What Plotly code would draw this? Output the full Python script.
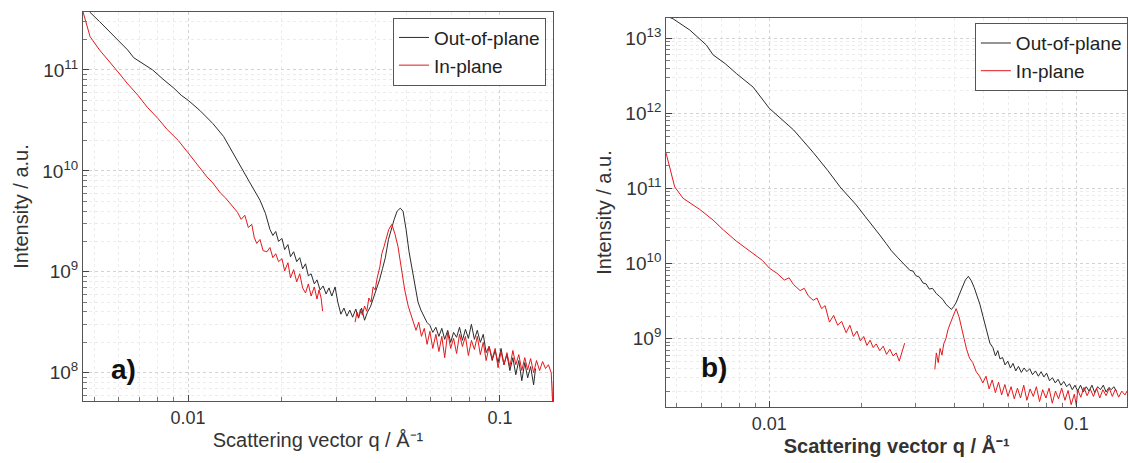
import plotly.graph_objects as go

# ---------------- Panel a) data ----------------
q_a_oop = [0.0046, 0.00485, 0.0052, 0.0057, 0.0064, 0.0067, 0.0072, 0.0077, 0.0083, 0.0090,
           0.0095, 0.0100, 0.0109, 0.0120, 0.0130, 0.0139, 0.0150, 0.0158, 0.0170, 0.0177,
           0.0183, 0.0187, 0.0191, 0.0195, 0.0200, 0.0204, 0.0209, 0.0213, 0.0218, 0.0223,
           0.0228, 0.0233, 0.0238, 0.0243, 0.0248, 0.0254, 0.0259, 0.0265, 0.0271, 0.0277,
           0.0283, 0.0289, 0.0296, 0.0302, 0.0309, 0.0316, 0.0323, 0.0330, 0.0337, 0.0345,
           0.0352, 0.0360, 0.0368, 0.0376, 0.0385, 0.0393, 0.0402, 0.0411, 0.0420, 0.0429,
           0.0439, 0.0448, 0.0458, 0.0468, 0.0479, 0.0489, 0.0500, 0.0511, 0.0523, 0.0534,
           0.0546, 0.0558, 0.0571, 0.0583, 0.0596, 0.0609, 0.0623, 0.0637, 0.0651, 0.0665,
           0.0680, 0.0695, 0.0710, 0.0726, 0.0742, 0.0758, 0.0775, 0.0792, 0.0810, 0.0828,
           0.0846, 0.0865, 0.0884, 0.0903, 0.0923, 0.0944, 0.0965, 0.0986, 0.1008, 0.1030,
           0.1053, 0.1076, 0.1100, 0.1124, 0.1149, 0.1175, 0.1201, 0.1227, 0.1254, 0.1282,
           0.1300]
i_a_oop = [4.5e11, 3.72e11, 3.02e11, 2.29e11, 1.58e11, 1.32e11, 1.15e11, 1.0e11, 8.13e10, 6.61e10,
           5.62e10, 5.01e10, 3.98e10, 2.95e10, 2.19e10, 1.51e10, 1.0e10, 7.59e9, 5.13e9, 3.8e9,
           2.63e9, 2.29e9, 2.51e9, 2.00e9, 2.14e9, 1.66e9, 1.86e9, 1.41e9, 1.58e9, 1.26e9,
           1.38e9, 1.07e9, 1.20e9, 9.12e8, 9.55e8, 7.59e8, 8.32e8, 6.61e8, 7.24e8, 6.03e8,
           6.92e8, 5.75e8, 7.08e8, 5.01e8, 3.80e8, 4.37e8, 3.63e8, 4.17e8, 3.55e8, 4.27e8,
           3.47e8, 4.37e8, 3.31e8, 3.98e8, 4.57e8, 5.50e8, 6.61e8, 8.32e8, 1.07e9, 1.38e9,
           2.09e9, 2.63e9, 3.31e9, 3.98e9, 4.27e9, 3.98e9, 2.63e9, 1.58e9, 1.05e9, 6.92e8,
           5.01e8, 4.17e8, 3.63e8, 3.16e8, 2.95e8, 2.51e8, 2.82e8, 2.29e8, 2.75e8, 2.14e8,
           2.63e8, 2.00e8, 2.51e8, 2.24e8, 2.82e8, 2.09e8, 2.69e8, 2.19e8, 3.02e8, 2.14e8,
           2.63e8, 2.00e8, 2.40e8, 1.58e8, 1.82e8, 1.32e8, 1.66e8, 1.26e8, 1.74e8, 1.20e8,
           1.51e8, 1.05e8, 1.41e8, 9.55e7, 1.32e8, 8.32e7, 1.26e8, 8.91e7, 1.15e8, 7.59e7,
           1.10e8]

q_a_ip = [0.0046, 0.00485, 0.0052, 0.00562, 0.0060, 0.00637, 0.0069, 0.0074, 0.0080, 0.00857,
          0.0093, 0.0100, 0.0107, 0.0115, 0.0120, 0.0127, 0.0132, 0.0139, 0.0144, 0.0148,
          0.0152, 0.0156, 0.0160, 0.0163, 0.0166, 0.0170, 0.0174, 0.0179, 0.0183, 0.0187,
          0.0191, 0.0195, 0.0200, 0.0204, 0.0209, 0.0213, 0.0218, 0.0223, 0.0228, 0.0233,
          0.0238, 0.0243, 0.0248, 0.0254, 0.0259, 0.0263, 0.0267, 0.0270, None,
          0.0343, 0.0348, 0.0352, 0.0357, 0.0362, 0.0368, 0.0374, 0.0380, 0.0386, 0.0392,
          0.0398, 0.0404, 0.0412, 0.0418, 0.0425, 0.0432, 0.0440, 0.0450, 0.0460, 0.0471,
          0.0483, 0.0495, 0.0508, 0.0518, 0.0527, 0.0538, 0.0549, 0.0560, 0.0572, 0.0584,
          0.0596, 0.0609, 0.0623, 0.0637, 0.0651, 0.0665, 0.0680, 0.0695, 0.0710, 0.0726,
          0.0742, 0.0758, 0.0775, 0.0792, 0.0810, 0.0828, 0.0846, 0.0865, 0.0884, 0.0903,
          0.0923, 0.0944, 0.0965, 0.0986, 0.1008, 0.1030, 0.1053, 0.1076, 0.1100, 0.1124,
          0.1149, 0.1175, 0.1201, 0.1227, 0.1254, 0.1282, 0.1310, 0.1340, 0.1370, 0.1400,
          0.1430, 0.1460, 0.1475, 0.1490]
i_a_ip = [3.8e11, 2.14e11, 1.58e11, 1.17e11, 9.33e10, 7.41e10, 5.62e10, 4.27e10, 3.31e10, 2.57e10,
          2.0e10, 1.51e10, 1.15e10, 8.71e9, 7.59e9, 6.03e9, 5.37e9, 4.37e9, 3.89e9, 3.31e9,
          3.63e9, 2.75e9, 2.95e9, 2.19e9, 1.91e9, 2.09e9, 1.62e9, 1.58e9, 1.74e9, 1.38e9,
          1.51e9, 1.26e9, 1.35e9, 1.02e9, 1.23e9, 8.71e8, 1.05e9, 7.94e8, 9.55e8, 6.92e8,
          6.17e8, 7.59e8, 5.75e8, 7.08e8, 5.37e8, 6.61e8, 5.50e8, 4.07e8, None,
          3.16e8, 3.98e8, 3.55e8, 4.27e8, 3.72e8, 4.57e8, 4.07e8, 5.50e8, 5.01e8, 7.08e8,
          6.61e8, 8.71e8, 1.12e9, 1.51e9, 1.78e9, 2.09e9, 2.63e9, 2.95e9, 2.40e9, 1.78e9,
          1.12e9, 6.61e8, 4.57e8, 3.80e8, 3.31e8, 2.63e8, 3.16e8, 2.29e8, 2.75e8, 1.91e8,
          2.57e8, 1.74e8, 2.40e8, 1.62e8, 2.29e8, 1.41e8, 2.51e8, 1.74e8, 2.19e8, 1.55e8,
          2.40e8, 1.82e8, 2.29e8, 1.48e8, 2.09e8, 1.70e8, 2.29e8, 1.51e8, 2.0e8, 1.32e8,
          1.82e8, 1.38e8, 1.74e8, 1.12e8, 1.62e8, 1.20e8, 1.58e8, 1.15e8, 1.66e8, 1.20e8,
          1.51e8, 1.05e8, 1.41e8, 1.07e8, 1.38e8, 1.0e8, 1.32e8, 1.05e8, 1.29e8, 1.10e8,
          1.20e8, 1.0e8, 5.0e7, 1.15e8]

# ---------------- Panel b) data ----------------
q_b_oop = [0.0046, 0.00486, 0.00551, 0.00624, 0.00656, 0.0072, 0.00782, 0.00886, 0.0100, 0.0110,
           0.0120, 0.0139, 0.0155, 0.0170, 0.0180, 0.0192, 0.0205, 0.0218, 0.0229, 0.0240,
           0.0250, 0.0262, 0.0273, 0.0280, 0.0287, 0.0294, 0.0300, 0.0308, 0.0317, 0.0324,
           0.0332, 0.0340, 0.0350, 0.0359, 0.0368, 0.0376, 0.0384, 0.0392, 0.0399, 0.0406,
           0.0415, 0.0425, 0.0435, 0.0445, 0.0455, 0.0465, 0.0473, 0.0485, 0.0497, 0.0510,
           0.0523, 0.0535, 0.0545, 0.0555, 0.0564, 0.0575, 0.0586, 0.0598, 0.0610, 0.0622,
           0.0635, 0.0648, 0.0662, 0.0676, 0.0690, 0.0705, 0.0720, 0.0736, 0.0752, 0.0768,
           0.0784, 0.0800, 0.0818, 0.0836, 0.0854, 0.0872, 0.0891, 0.0910, 0.0930, 0.0950,
           0.0970, 0.0990, 0.1010, 0.1032, 0.1054, 0.1077, 0.1100, 0.1124, 0.1148, 0.1173,
           0.1198, 0.1224, 0.1250, 0.1277, 0.1300, 0.1325, 0.1350]
i_b_oop = [2.0e13, 1.82e13, 1.29e13, 8.13e12, 6.03e12, 4.57e12, 3.39e12, 2.24e12, 1.17e12, 8.32e11,
           6.03e11, 3.02e11, 1.74e11, 1.05e11, 8.13e10, 6.03e10, 4.27e10, 3.16e10, 2.40e10, 1.86e10,
           1.48e10, 1.20e10, 1.0e10, 9.12e9, 8.13e9, 7.94e9, 6.92e9, 6.61e9, 5.50e9, 5.37e9,
           4.57e9, 4.68e9, 3.98e9, 3.63e9, 3.31e9, 2.88e9, 2.69e9, 2.45e9, 2.69e9, 3.02e9,
           3.80e9, 4.90e9, 6.03e9, 6.76e9, 5.89e9, 4.79e9, 3.98e9, 2.88e9, 1.95e9, 1.29e9,
           8.71e8, 7.59e8, 5.89e8, 6.92e8, 5.37e8, 5.62e8, 4.47e8, 5.01e8, 4.07e8, 4.68e8,
           3.72e8, 4.27e8, 3.55e8, 4.07e8, 3.63e8, 3.98e8, 3.31e8, 3.72e8, 3.16e8, 3.63e8,
           3.09e8, 3.47e8, 2.75e8, 3.02e8, 2.57e8, 2.88e8, 2.40e8, 2.69e8, 2.29e8, 2.51e8,
           2.09e8, 2.40e8, 2.0e8, 2.40e8, 1.95e8, 2.29e8, 2.0e8, 2.40e8, 1.91e8, 2.29e8,
           2.09e8, 2.40e8, 1.95e8, 2.24e8, 2.09e8, 2.29e8, 2.0e8]

q_b_ip = [0.0046, 0.00474, 0.00492, 0.00524, 0.00594, 0.00656, 0.00708, 0.0078, 0.00886, 0.0095,
          0.0100, 0.0106, 0.0112, 0.0116, 0.0120, 0.0126, 0.0130, 0.0134, 0.0139, 0.0143,
          0.0148, 0.0152, 0.0157, 0.0162, 0.0167, 0.0172, 0.0178, 0.0183, 0.0188, 0.0193,
          0.0198, 0.0203, 0.0208, 0.0213, 0.0218, 0.0223, 0.0229, 0.0235, 0.0241, 0.0247,
          0.0253, 0.0259, 0.0265, 0.0270, 0.0276, None,
          0.0346, 0.0350, 0.0355, 0.0360, 0.0365, 0.0370, 0.0376, 0.0382, 0.0389, 0.0396,
          0.0406, 0.0415, 0.0423, 0.0431, 0.0439, 0.0449, 0.0460, 0.0472, 0.0484, 0.0496,
          0.0508, 0.0520, 0.0532, 0.0545, 0.0558, 0.0571, 0.0585, 0.0599, 0.0613, 0.0628,
          0.0643, 0.0658, 0.0674, 0.0690, 0.0707, 0.0724, 0.0741, 0.0759, 0.0777, 0.0796,
          0.0815, 0.0835, 0.0855, 0.0875, 0.0896, 0.0918, 0.0940, 0.0962, 0.0985, 0.1000,
          0.1010, 0.1034, 0.1059, 0.1084, 0.1110, 0.1137, 0.1164, 0.1192, 0.1220, 0.1250,
          0.1280, 0.1310, 0.1341, 0.1373, 0.1406, 0.1440, 0.1466]
i_b_ip = [3.09e11, 1.95e11, 1.05e11, 7.41e10, 5.25e10, 3.80e10, 2.82e10, 2.0e10, 1.38e10, 1.10e10,
          8.71e9, 7.41e9, 6.03e9, 6.46e9, 5.25e9, 4.37e9, 4.68e9, 3.72e9, 3.24e9, 3.47e9,
          2.51e9, 2.75e9, 1.66e9, 2.04e9, 1.51e9, 1.70e9, 1.20e9, 1.51e9, 1.07e9, 1.26e9,
          9.33e8, 1.07e9, 8.13e8, 9.55e8, 7.59e8, 8.51e8, 6.92e8, 7.94e8, 6.17e8, 7.24e8,
          5.89e8, 6.46e8, 5.01e8, 6.61e8, 8.71e8, None,
          3.89e8, 6.46e8, 4.79e8, 7.41e8, 6.03e8, 8.51e8, 1.0e9, 1.32e9, 1.62e9, 1.95e9,
          2.51e9, 1.95e9, 1.45e9, 1.0e9, 7.24e8, 5.50e8, 4.79e8, 3.63e8, 3.16e8, 2.57e8,
          3.16e8, 2.14e8, 2.82e8, 1.91e8, 2.63e8, 1.78e8, 2.45e8, 1.70e8, 2.29e8, 1.58e8,
          2.19e8, 1.62e8, 2.40e8, 1.51e8, 2.14e8, 1.70e8, 2.29e8, 1.45e8, 2.09e8, 1.62e8,
          2.19e8, 1.38e8, 2.0e8, 1.58e8, 2.19e8, 1.51e8, 2.04e8, 1.32e8, 1.82e8, 1.29e8,
          2.09e8, 1.66e8, 2.24e8, 1.74e8, 2.14e8, 1.70e8, 2.19e8, 1.62e8, 2.09e8, 1.74e8,
          2.19e8, 1.70e8, 2.14e8, 1.66e8, 2.0e8, 1.78e8, 2.04e8]

series_names = ["Out-of-plane", "In-plane"]
x_tick_vals = [0.01, 0.1]
x_tick_text = ["0.01", "0.1"]
y_a_tick_vals = [1e8, 1e9, 1e10, 1e11]
y_a_tick_text = ["10<sup>8</sup>", "10<sup>9</sup>", "10<sup>10</sup>", "10<sup>11</sup>"]
y_b_tick_vals = [1e9, 1e10, 1e11, 1e12, 1e13]
y_b_tick_text = ["10<sup>9</sup>", "10<sup>10</sup>", "10<sup>11</sup>", "10<sup>12</sup>", "10<sup>13</sup>"]

BLACK = "#2b2b2b"
RED = "#e3191c"
FONT = "Liberation Sans, Arial, sans-serif"

fig = go.Figure()
fig.add_trace(go.Scatter(x=q_a_oop, y=i_a_oop, mode="lines", name=series_names[0],
                         line=dict(color=BLACK, width=1), xaxis="x", yaxis="y", legend="legend"))
fig.add_trace(go.Scatter(x=q_a_ip, y=i_a_ip, mode="lines", name=series_names[1],
                         line=dict(color=RED, width=1), xaxis="x", yaxis="y", legend="legend"))
fig.add_trace(go.Scatter(x=q_b_oop, y=i_b_oop, mode="lines", name=series_names[0],
                         line=dict(color=BLACK, width=1), xaxis="x2", yaxis="y2", legend="legend2"))
fig.add_trace(go.Scatter(x=q_b_ip, y=i_b_ip, mode="lines", name=series_names[1],
                         line=dict(color=RED, width=1), xaxis="x2", yaxis="y2", legend="legend2"))

x_minor = [m * 10 ** e for e in (-3, -2, -1) for m in range(2, 10)]
def y_minor(lo, hi):
    return [m * 10 ** e for e in range(lo, hi) for m in range(2, 10)]

def xaxis(domain, rng, anchor, bold):
    return dict(
        type="log", domain=domain, range=rng, anchor=anchor,
        tickmode="array", tickvals=x_tick_vals, ticktext=x_tick_text,
        ticks="inside", ticklen=6, tickcolor="#444",
        showline=True, linecolor="#555", linewidth=1, mirror=True,
        showgrid=True, gridcolor="#d2d2d2", griddash="dot", gridwidth=1,
        minor=dict(tickmode="array", tickvals=x_minor, ticks="inside", ticklen=4, tickcolor="#777",
                   showgrid=True, gridcolor="#ececec", griddash="dot"),
        tickfont=dict(family=FONT, size=18, color="#333"),
        title=dict(text="<b>Scattering vector q / Å⁻¹</b>" if bold else "Scattering vector q / Å⁻¹",
                   font=dict(family=FONT, size=20, color="#333"), standoff=6),
        zeroline=False, automargin=False,
    )

def yaxis(domain, rng, anchor, lo, hi, tv, tt):
    return dict(
        type="log", domain=domain, range=rng, anchor=anchor,
        tickmode="array", tickvals=tv, ticktext=tt,
        ticks="inside", ticklen=6, tickcolor="#444",
        showline=True, linecolor="#555", linewidth=1, mirror=True,
        showgrid=True, gridcolor="#d2d2d2", griddash="dot", gridwidth=1,
        minor=dict(tickmode="array", tickvals=y_minor(lo, hi), ticks="inside", ticklen=4, tickcolor="#777",
                   showgrid=True, gridcolor="#ececec", griddash="dot"),
        tickfont=dict(family=FONT, size=19, color="#333"),
        title=dict(text="Intensity / a.u.", font=dict(family=FONT, size=20, color="#333"), standoff=8),
        zeroline=False, automargin=False,
    )

fig.update_layout(
    width=1129, height=463,
    margin=dict(l=0, r=0, t=0, b=0),
    paper_bgcolor="white", plot_bgcolor="white",
    font=dict(family=FONT, color="#222"),
    xaxis=xaxis([0.0735, 0.4898], [-2.337, -0.830], "y", False),
    yaxis=yaxis([0.134, 0.974], [7.72, 11.574], "x", 7, 12, y_a_tick_vals, y_a_tick_text),
    xaxis2=xaxis([0.590, 0.9985], [-2.336, -0.834], "y2", True),
    yaxis2=yaxis([0.121, 0.961], [8.09, 13.27], "x2", 8, 14, y_b_tick_vals, y_b_tick_text),
    legend=dict(x=0.4836, y=0.962, xanchor="right", yanchor="top",
                bgcolor="white", bordercolor="#555", borderwidth=1,
                font=dict(family=FONT, size=19, color="#222"), tracegroupgap=0),
    legend2=dict(x=0.999, y=0.950, xanchor="right", yanchor="top",
                 bgcolor="white", bordercolor="#555", borderwidth=1,
                 font=dict(family=FONT, size=19, color="#222"), tracegroupgap=0),
    annotations=[
        dict(text="<b>a)</b>", x=0.109, y=0.203, xref="paper", yref="paper",
             xanchor="center", yanchor="middle",
             showarrow=False, font=dict(family=FONT, size=28, color="#111")),
        dict(text="<b>b)</b>", x=0.632, y=0.207, xref="paper", yref="paper",
             xanchor="center", yanchor="middle",
             showarrow=False, font=dict(family=FONT, size=28, color="#111")),
    ],
)

fig.write_html("out.html", config={"displayModeBar": False},
               post_script="document.body.style.margin='0';")
